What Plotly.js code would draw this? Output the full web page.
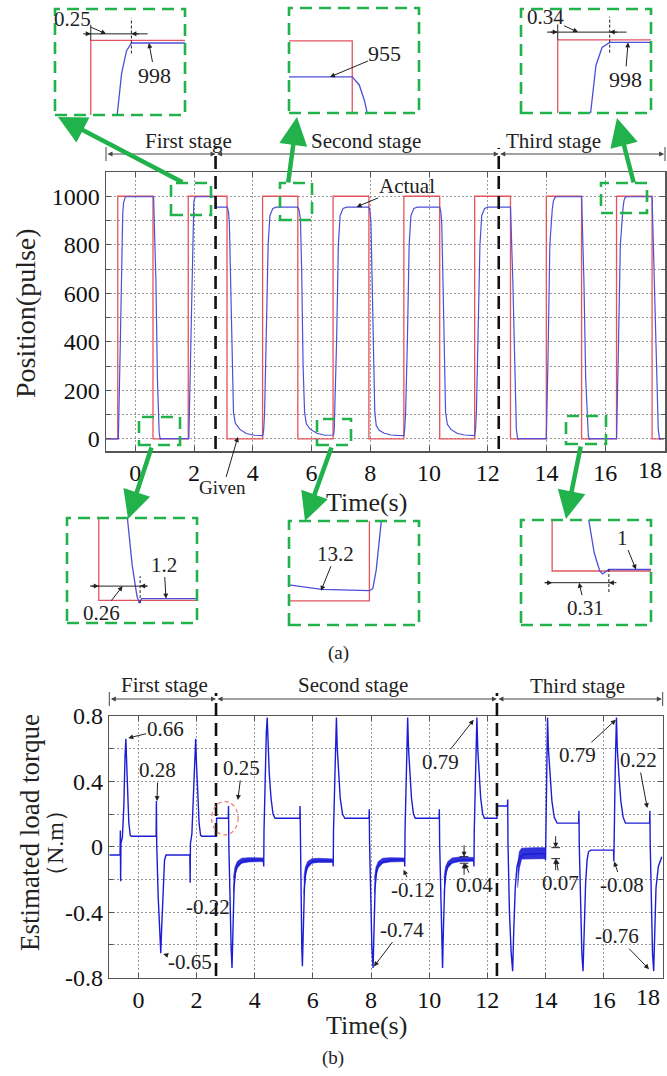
<!DOCTYPE html>
<html>
<head>
<meta charset="utf-8">
<script src="https://cdn.plot.ly/plotly-3.0.1.min.js"></script>
<style>
html,body{margin:0;padding:0;background:#fff}
#fig{width:667px;height:1076px}
</style>
</head>
<body>
<div id="fig"></div>
<script>
// ---- (a) position tracking: commanded square wave and measured response (pulse) ----
const givenT   = [-1, -0.6, 0.6, 1.8, 3.12, 4.33, 5.53, 6.73, 7.95, 9.14, 10.36, 11.55, 12.77, 13.99, 15.19, 16.38, 17.59, 18];
const givenPos = [0, 1000, 0, 1000, 0, 1000, 0, 1000, 0, 1000, 0, 1000, 0, 1000, 0, 1000, 0, 0];

const actualT = [
  -1, -0.58, -0.52, -0.46, -0.43, -0.40, -0.37, -0.34,
  0.62, 0.70, 0.75, 0.78, 0.81, 0.84, 0.855, 0.87,
  1.82, 1.88, 1.94, 1.96, 1.99, 2.02, 2.05, 2.73, 2.75,
  3.13, 3.17, 3.20, 3.25, 3.30, 3.34, 3.40, 3.55, 3.77, 4.05, 4.34,
  4.37, 4.40, 4.46, 4.52, 4.58, 4.68, 4.80,
  5.53, 5.57, 5.60, 5.62, 5.66, 5.71, 5.76, 5.82, 5.95, 6.18, 6.45, 6.73,
  6.75, 6.77, 6.79, 6.85, 6.91, 6.97, 7.07, 7.20,
  7.95, 7.99, 8.02, 8.07, 8.11, 8.15, 8.20, 8.30, 8.47, 8.70, 8.90, 9.14,
  9.17, 9.20, 9.26, 9.32, 9.38, 9.48, 9.60,
  10.36, 10.40, 10.43, 10.48, 10.52, 10.56, 10.62, 10.75, 10.95, 11.20, 11.55,
  11.58, 11.61, 11.67, 11.73, 11.79, 11.89, 12.00,
  12.77, 12.85, 12.92, 12.97, 13.01, 13.03, 13.06,
  13.99, 14.05, 14.11, 14.19, 14.23, 14.28, 14.32,
  15.19, 15.27, 15.33, 15.39, 15.42, 15.45, 15.465, 15.50,
  16.38, 16.44, 16.51, 16.595, 16.63, 16.67, 16.72,
  17.59, 17.67, 17.74, 17.80, 17.84, 17.86, 17.90, 18
];
const actualPos = [
  0, 0, 350, 800, 930, 975, 992, 998,
  998, 650, 250, 58, 25, 3, -2, 1.2,
  1.2, 350, 800, 940, 975, 992, 998, 998, 955,
  955, 935, 890, 600, 250, 110, 65, 40, 22, 15, 13.2,
  40, 110, 400, 800, 920, 950, 955,
  955, 945, 925, 905, 700, 300, 110, 62, 40, 23, 15, 13.2,
  16, 40, 110, 400, 800, 920, 950, 955,
  955, 935, 890, 600, 250, 110, 55, 35, 23, 16, 14, 13.2,
  40, 110, 400, 800, 920, 950, 955,
  955, 935, 890, 600, 250, 110, 60, 38, 23, 16, 13.2,
  40, 110, 400, 800, 920, 950, 955,
  955, 650, 250, 40, 3, -2, 1,
  1, 350, 800, 943, 980, 994, 998,
  998, 650, 250, 34, 12, 0, -2, 1,
  1, 350, 800, 943, 980, 994, 998,
  998, 650, 250, 40, 3, -2, 1, 1
];

// ---- (b) estimated load torque (N.m) ----
const torqueT = [
  -1, -0.63, -0.62, -0.61, -0.60, -0.55, -0.50, -0.46, -0.43, -0.40, -0.37, -0.33, -0.28, -0.24,
  0.61, 0.62, 0.63, 0.68, 0.73, 0.77, 0.80, 0.85, 0.90, 0.95,
  1.77, 1.78, 1.79, 1.84, 1.89, 1.93, 1.97, 2.00, 2.04, 2.09, 2.14, 2.18,
  2.68, 2.69, 3.09, 3.10, 3.11, 3.15, 3.19, 3.22, 3.25, 3.29, 3.34, 3.42, 3.58, 3.85,
  4.30, 4.31, 4.32, 4.36, 4.40, 4.43, 4.46, 4.50, 4.56, 4.63, 4.70,
  5.55, 5.56, 5.57, 5.60, 5.62, 5.64, 5.67, 5.71, 5.76, 5.84, 6.00, 6.25,
  6.69, 6.70, 6.71, 6.75, 6.78, 6.81, 6.84, 6.88, 6.94, 7.02, 7.10,
  7.93, 7.94, 7.95, 7.99, 8.03, 8.07, 8.10, 8.14, 8.19, 8.27, 8.43, 8.70,
  9.15, 9.16, 9.17, 9.21, 9.24, 9.26, 9.29, 9.33, 9.39, 9.46, 9.52,
  10.34, 10.35, 10.36, 10.40, 10.43, 10.46, 10.49, 10.53, 10.58, 10.66, 10.82, 11.10,
  11.53, 11.54, 11.55, 11.59, 11.62, 11.64, 11.67, 11.71, 11.77, 11.84, 11.90,
  12.33, 12.34, 12.69, 12.70, 12.71, 12.76, 12.82, 12.87, 12.91, 12.96, 13.02, 13.10, 13.25,
  13.99, 14.00, 14.01, 14.04, 14.07, 14.10, 14.15, 14.22, 14.30, 14.40,
  15.14, 15.15, 15.16, 15.21, 15.25, 15.29, 15.33, 15.38, 15.43, 15.48, 15.55,
  16.34, 16.35, 16.36, 16.40, 16.44, 16.47, 16.52, 16.59, 16.67, 16.75,
  17.58, 17.59, 17.60, 17.64, 17.68, 17.72, 17.76, 17.80, 17.88, 17.96, 18
];
const torqueV = [
  -0.05, -0.05, 0.10, -0.21, 0.02, 0.06, 0.25, 0.55, 0.66, 0.50, 0.30, 0.15, 0.07, 0.065,
  0.065, 0.28, 0.02, -0.30, -0.55, -0.65, -0.50, -0.25, -0.08, -0.05,
  -0.05, -0.22, 0.02, 0.08, 0.30, 0.55, 0.66, 0.50, 0.30, 0.14, 0.07, 0.065,
  0.065, 0.175, 0.175, 0.25, 0.02, -0.35, -0.62, -0.74, -0.50, -0.25, -0.15, -0.11, -0.09, -0.08,
  -0.08, -0.12, 0.10, 0.45, 0.70, 0.79, 0.60, 0.45, 0.30, 0.20, 0.175,
  0.175, 0.25, 0.02, -0.35, -0.62, -0.73, -0.50, -0.25, -0.15, -0.11, -0.09, -0.085,
  -0.085, -0.12, 0.10, 0.45, 0.70, 0.79, 0.60, 0.45, 0.30, 0.20, 0.175,
  0.175, 0.23, 0.02, -0.35, -0.62, -0.74, -0.50, -0.25, -0.15, -0.11, -0.09, -0.08,
  -0.08, -0.12, 0.10, 0.45, 0.70, 0.79, 0.60, 0.45, 0.30, 0.20, 0.175,
  0.175, 0.23, 0.02, -0.35, -0.62, -0.74, -0.50, -0.25, -0.15, -0.11, -0.09, -0.08,
  -0.08, -0.12, 0.10, 0.45, 0.70, 0.79, 0.60, 0.45, 0.30, 0.20, 0.175,
  0.175, 0.25, 0.25, 0.29, 0.02, -0.40, -0.65, -0.76, -0.50, -0.25, -0.12, -0.07, -0.045,
  -0.04, -0.08, 0.10, 0.50, 0.79, 0.60, 0.45, 0.28, 0.18, 0.145,
  0.145, 0.22, 0.02, -0.40, -0.65, -0.76, -0.50, -0.22, -0.08, -0.03, -0.02,
  -0.02, -0.09, 0.10, 0.50, 0.79, 0.60, 0.45, 0.28, 0.18, 0.145,
  0.145, 0.22, 0.02, -0.40, -0.65, -0.76, -0.55, -0.25, -0.12, -0.07, -0.06
];

// ripple envelope of the estimate on the noisy low plateaus
const noiseT = [
  [3.27, 3.32, 3.40, 3.55, 3.80, 4.05, 4.29],
  [5.69, 5.74, 5.82, 5.97, 6.20, 6.45, 6.68],
  [8.12, 8.17, 8.25, 8.40, 8.65, 8.90, 9.14],
  [10.51, 10.56, 10.64, 10.79, 11.05, 11.30, 11.52],
  [13.04, 13.10, 13.18, 13.40, 13.65, 13.85, 13.98]
];
const noiseHi = [
  [-0.19, -0.125, -0.09, -0.07, -0.066, -0.066, -0.068],
  [-0.19, -0.125, -0.09, -0.072, -0.07, -0.072, -0.074],
  [-0.19, -0.125, -0.09, -0.07, -0.066, -0.066, -0.068],
  [-0.19, -0.125, -0.09, -0.068, -0.062, -0.062, -0.065],
  [-0.12, -0.03, -0.008, -0.005, -0.005, -0.005, -0.005]
];
const noiseLo = [
  [-0.29, -0.18, -0.13, -0.1, -0.092, -0.09, -0.09],
  [-0.29, -0.18, -0.13, -0.1, -0.095, -0.095, -0.095],
  [-0.29, -0.18, -0.13, -0.1, -0.092, -0.09, -0.09],
  [-0.29, -0.18, -0.13, -0.1, -0.09, -0.088, -0.088],
  [-0.25, -0.13, -0.075, -0.072, -0.072, -0.072, -0.072]
];

const timeTicks = [0, 2, 4, 6, 8, 10, 12, 14, 16, 18];
// the label at 18 s is set right-aligned at the axis end (see below)
const timeTickText = ['0', '2', '4', '6', '8', '10', '12', '14', '16', ''];
const lastTimeLabel = '18';
const posTicks = [0, 200, 400, 600, 800, 1000];
const torqueTicks = [-0.8, -0.4, 0, 0.4, 0.8];
const torqueTickText = ['-0.8', '-0.4', '0', '0.4', '0.8'];

// stage boundaries (s) as marked on each panel
const stageA = [2.73, 12.37];
const stageB = [2.67, 12.33];

// ---------------- drawing ----------------
const W = 667, H = 1076;
const fx = x => x / W;
const fy = y => 1 - y / H;

const SERIF = 'Liberation Serif, Times New Roman, serif';
const RED = '#e2555c';
const BLUE = '#4e4ed8';
const TBLUE = '#1c1cd6';
const GREEN = '#22b24c';
const INK = '#222';
const GRID = '#9a9a9a';

function axisBase(extra) {
  return Object.assign({
    showline: true, linecolor: '#555', linewidth: 1.5, mirror: 'ticks',
    ticks: 'inside', ticklen: 5, tickcolor: '#555', tickwidth: 1,
    showgrid: true, gridcolor: GRID, gridwidth: 1, griddash: '2px,2px',
    zeroline: false, fixedrange: true,
    tickfont: {family: SERIF, size: 24, color: '#111'}
  }, extra);
}

// zoom windows drawn beside the main position plot
const insets = [
  {id: 3, box: [55, 9, 185, 115],   xr: [1.58, 2.38],   yr: [943, 1024]},
  {id: 4, box: [289, 8, 419, 113],  xr: [5.17, 5.91],   yr: [910, 1041]},
  {id: 5, box: [521, 9, 651, 113],  xr: [16.14, 16.99], yr: [943, 1024]},
  {id: 6, box: [67, 518, 197, 623], xr: [0.4, 1.218],   yr: [-16, 58]},
  {id: 7, box: [289, 521, 419, 625],xr: [6.26, 7.02],   yr: [-31, 103]},
  {id: 8, box: [521, 520, 651, 625],xr: [15.02, 15.73], yr: [-36, 34]}
];

const traces = [
  {x: givenT, y: givenPos, xaxis: 'x', yaxis: 'y', mode: 'lines',
   line: {shape: 'hv', color: RED, width: 1.3}, hoverinfo: 'skip'},
  {x: actualT, y: actualPos, xaxis: 'x', yaxis: 'y', mode: 'lines',
   line: {color: BLUE, width: 1.2}, hoverinfo: 'skip'}
];

// ripple bands as closed polygons
const bandX = [], bandY = [];
noiseT.forEach((seg, i) => {
  seg.forEach((t, k) => { bandX.push(t); bandY.push(noiseHi[i][k]); });
  for (let k = seg.length - 1; k >= 0; k--) { bandX.push(seg[k]); bandY.push(noiseLo[i][k]); }
  bandX.push(null); bandY.push(null);
});
traces.push({x: bandX, y: bandY, xaxis: 'x2', yaxis: 'y2', mode: 'lines', fill: 'toself',
  fillcolor: 'rgba(28,28,214,0.9)', line: {color: TBLUE, width: 0.6}, hoverinfo: 'skip'});
traces.push({x: torqueT, y: torqueV, xaxis: 'x2', yaxis: 'y2', mode: 'lines',
  line: {color: TBLUE, width: 1.4}, hoverinfo: 'skip'});

insets.forEach(s => {
  traces.push({x: givenT, y: givenPos, xaxis: 'x' + s.id, yaxis: 'y' + s.id, mode: 'lines',
    line: {shape: 'hv', color: RED, width: 1.3}, hoverinfo: 'skip'});
  traces.push({x: actualT, y: actualPos, xaxis: 'x' + s.id, yaxis: 'y' + s.id, mode: 'lines',
    line: {color: BLUE, width: 1.3}, hoverinfo: 'skip'});
});

const layout = {
  width: W, height: H, autosize: false,
  margin: {l: 0, r: 0, t: 0, b: 0},
  paper_bgcolor: '#fff', plot_bgcolor: 'rgba(0,0,0,0)',
  showlegend: false,
  font: {family: SERIF, color: INK},
  xaxis: axisBase({domain: [fx(106), fx(665)], range: [-1, 18.03], anchor: 'y',
    tickvals: timeTicks, ticktext: timeTickText}),
  yaxis: axisBase({domain: [fy(451), fy(172)], range: [-50, 1100], anchor: 'x', tickvals: posTicks,
    minor: {tickvals: [100, 300, 500, 700, 900], ticks: 'inside', ticklen: 4, tickcolor: '#555',
            showgrid: true, gridcolor: GRID, griddash: '2px,2px', gridwidth: 1}}),
  xaxis2: axisBase({domain: [fx(109.3), fx(662.7)], range: [-1, 18.03], anchor: 'y2',
    tickvals: timeTicks, ticktext: timeTickText}),
  yaxis2: axisBase({domain: [fy(977.7), fy(716)], range: [-0.8, 0.8], anchor: 'x2',
    tickvals: torqueTicks, ticktext: torqueTickText,
    minor: {tickvals: [-0.6, -0.2, 0.2, 0.6], ticks: 'inside', ticklen: 4, tickcolor: '#555',
            showgrid: true, gridcolor: GRID, griddash: '2px,2px', gridwidth: 1}}),
  shapes: [],
  annotations: []
};

insets.forEach(s => {
  const [x0, y0, x1, y1] = s.box;
  layout['xaxis' + s.id] = {domain: [fx(x0), fx(x1)], range: s.xr, visible: false,
    anchor: 'y' + s.id, fixedrange: true};
  layout['yaxis' + s.id] = {domain: [fy(y1), fy(y0)], range: s.yr, visible: false,
    anchor: 'x' + s.id, fixedrange: true};
});

const S = layout.shapes, A = layout.annotations;

function pBox(x0, y0, x1, y1) {
  S.push({type: 'rect', xref: 'paper', yref: 'paper', x0: fx(x0), x1: fx(x1), y0: fy(y1), y1: fy(y0),
    line: {color: GREEN, width: 2.6, dash: '12px,7px'}, fillcolor: 'rgba(0,0,0,0)'});
}
function seg(xref, yref, x0, y0, x1, y1, opts) {
  S.push(Object.assign({type: 'line', xref, yref, x0, y0, x1, y1,
    line: {color: INK, width: 1}}, opts || {}));
}
function text(t, x, y, size, extra) {
  A.push(Object.assign({text: t, xref: 'paper', yref: 'paper', x: fx(x), y: fy(y),
    xanchor: 'center', yanchor: 'middle', showarrow: false,
    font: {family: SERIF, size: size, color: INK}}, extra || {}));
}
function pointer(t, xref, yref, x, y, ax, ay, size) {
  A.push({text: t, xref, yref, x, y, ax, ay, axref: 'pixel', ayref: 'pixel',
    showarrow: true, arrowhead: 2, arrowsize: 1, arrowwidth: 1, arrowcolor: INK,
    font: {family: SERIF, size: size || 20, color: INK}, borderpad: 0});
}
function head(xref, yref, x, y, ax, ay) {
  A.push({text: '', xref, yref, x, y, ax, ay, axref: 'pixel', ayref: 'pixel',
    showarrow: true, arrowhead: 2, arrowsize: 1, arrowwidth: 1, arrowcolor: INK});
}
function greenArrow(x1, y1, x2, y2) {
  A.push({text: '', xref: 'paper', yref: 'paper', x: fx(x2), y: fy(y2),
    ax: x1 - x2, ay: y1 - y2, axref: 'pixel', ayref: 'pixel',
    showarrow: true, arrowhead: 2, arrowsize: 1.25, arrowwidth: 4.5, arrowcolor: GREEN});
}
function stageSpan(xref, y, t0, t1) {
  A.push({text: '', xref, yref: 'paper', x: t1, y: fy(y), ax: t0, axref: xref, ay: 0, ayref: 'pixel',
    showarrow: true, arrowside: 'end+start', arrowhead: 2, startarrowhead: 2,
    arrowsize: 1, startarrowsize: 1, arrowwidth: 1, arrowcolor: '#444'});
}

// end-of-axis time label, kept inside the figure
A.push({text: lastTimeLabel, xref: 'x', yref: 'paper', x: 18, y: fy(470), xanchor: 'right', yanchor: 'middle',
  showarrow: false, font: {family: SERIF, size: 24, color: '#111'}});
A.push({text: lastTimeLabel, xref: 'x2', yref: 'paper', x: 18, y: fy(997), xanchor: 'right', yanchor: 'middle',
  showarrow: false, font: {family: SERIF, size: 24, color: '#111'}});

// --- stage bars and boundaries ---
[[-1].concat(stageA).concat([18])].forEach(b => {
  for (let i = 0; i < b.length - 1; i++) stageSpan('x', 154, b[i], b[i + 1]);
});
[[-1].concat(stageB).concat([18])].forEach(b => {
  for (let i = 0; i < b.length - 1; i++) stageSpan('x2', 699, b[i], b[i + 1]);
});
seg('paper', 'paper', fx(106), fy(147), fx(106), fy(161), {line: {color: '#444', width: 1}});
seg('paper', 'paper', fx(665), fy(147), fx(665), fy(161), {line: {color: '#444', width: 1}});
seg('paper', 'paper', fx(109.3), fy(692), fx(109.3), fy(706), {line: {color: '#444', width: 1}});
seg('paper', 'paper', fx(662.7), fy(692), fx(662.7), fy(706), {line: {color: '#444', width: 1}});
stageA.forEach(t => seg('x', 'paper', t, fy(449), t, fy(148), {line: {color: '#111', width: 2.6, dash: '13px,7px'}}));
stageB.forEach(t => seg('x2', 'paper', t, fy(976), t, fy(693), {line: {color: '#111', width: 2.6, dash: '13px,7px'}}));

text('First stage', 188, 141, 21);
text('Second stage', 366, 141, 21);
text('Third stage', 553, 141, 21);
text('First stage', 164, 685, 21);
text('Second stage', 353, 685, 21);
text('Third stage', 577, 686, 21);

// --- axis titles and panel tags ---
text('Position(pulse)', 25, 313, 28, {textangle: -90});
text('Time(s)', 366, 502, 26);
text('Estimated load torque', 30, 833, 27, {textangle: -90});
text('（N.m）', 55, 843, 24, {textangle: -90});
text('Time(s)', 366, 1025, 26);
text('(a)', 338, 653, 19);
text('(b)', 333, 1058, 19);

// --- zoom frames and leaders ---
insets.forEach(s => pBox.apply(null, s.box));
pBox(171, 183, 211, 215);
pBox(280, 183, 312, 220);
pBox(601, 183, 647, 213);
pBox(139, 417, 180, 445);
pBox(317, 419, 351, 445);
pBox(566, 416, 606, 444);
greenArrow(184, 183, 58, 117);
greenArrow(288, 184, 297, 117);
greenArrow(634, 184, 617, 118);
greenArrow(152, 446, 128, 519);
greenArrow(332, 446, 305, 521);
greenArrow(581, 445, 566, 519);

// --- main position plot labels ---
pointer('Actual', 'x', 'y', 7.53, 956, 50, -21, 21);
pointer('Given', 'x', 'y', 3.49, 8, -15, 51, 19);

// --- inset dimensioning ---
// settling to 998 after the 1.8 s step (first stage)
seg('x3', 'y3', 1.77, 1005, 2.15, 1005);
seg('x3', 'y3', 2.05, 990, 2.05, 1017, {line: {color: INK, width: 1, dash: '3px,2px'}});
seg('x3', 'y3', 1.8, 1000, 1.8, 1012);
head('x3', 'y3', 1.8, 1005, -9, 0);
head('x3', 'y3', 2.05, 1005, 9, 0);
pointer('0.25', 'x3', 'y3', 1.894, 1005, -34, -15, 21);
pointer('998', 'x3', 'y3', 2.158, 998, 6, 32, 22);
// second stage plateau
pointer('955', 'x4', 'y4', 5.403, 955, 55, -23, 22);
// third stage settling
seg('x5', 'y5', 16.31, 1006, 16.83, 1006);
seg('x5', 'y5', 16.72, 990, 16.72, 1018, {line: {color: INK, width: 1, dash: '3px,2px'}});
seg('x5', 'y5', 16.38, 1000, 16.38, 1012);
head('x5', 'y5', 16.38, 1006, -9, 0);
head('x5', 'y5', 16.72, 1006, 9, 0);
pointer('0.34', 'x5', 'y5', 16.513, 1006, -33, -15, 21);
pointer('998', 'x5', 'y5', 16.84, 998, -3, 37, 22);
// return to zero, first stage
seg('x6', 'y6', 0.545, 10, 0.905, 10);
seg('x6', 'y6', 0.86, -2, 0.86, 17, {line: {color: INK, width: 1, dash: '3px,2px'}});
head('x6', 'y6', 0.6, 10, -9, 0);
head('x6', 'y6', 0.86, 10, 9, 0);
pointer('0.26', 'x6', 'y6', 0.75, 10, -21, 27, 21);
pointer('1.2', 'x6', 'y6', 1.023, 1.2, -2, -34, 21);
// residual offset, second stage
pointer('13.2', 'x7', 'y7', 6.447, 13.2, 15, -37, 21);
// return to zero, third stage
seg('x8', 'y8', 15.15, -7.8, 15.51, -7.8);
seg('x8', 'y8', 15.5, -14, 15.5, 2, {line: {color: INK, width: 1, dash: '3px,2px'}});
head('x8', 'y8', 15.19, -7.8, -9, 0);
head('x8', 'y8', 15.5, -7.8, 9, 0);
pointer('0.31', 'x8', 'y8', 15.337, -7.8, 6, 25, 21);
pointer('1', 'x8', 'y8', 15.648, 1, -13, -32, 21);

// --- torque plot labels ---
S.push({type: 'circle', xref: 'x2', yref: 'y2', x0: 2.52, x1: 3.43, y0: 0.073, y1: 0.277,
  line: {color: '#e87878', width: 1.2, dash: '4px,3px'}});
pointer('0.66', 'x2', 'y2', -0.35, 0.665, 37, -9, 21);
pointer('0.28', 'x2', 'y2', 0.64, 0.28, 1, -31, 21);
pointer('0.25', 'x2', 'y2', 3.42, 0.287, 4, -32, 21);
pointer('-0.22', 'x2', 'y2', 1.94, -0.228, 13, 23, 21);
pointer('-0.65', 'x2', 'y2', 0.855, -0.655, 27, 8, 21);
pointer('-0.12', 'x2', 'y2', 9.12, -0.14, 9, 20, 21);
pointer('-0.74', 'x2', 'y2', 8.1, -0.732, 28, -37, 21);
pointer('0.79', 'x2', 'y2', 11.53, 0.777, -33, 42, 21);
pointer('0.79', 'x2', 'y2', 16.42, 0.777, -38, 35, 21);
pointer('0.22', 'x2', 'y2', 17.5, 0.237, -9, -48, 21);
pointer('-0.08', 'x2', 'y2', 16.36, -0.09, 8, 23, 21);
pointer('-0.76', 'x2', 'y2', 17.56, -0.748, -32, -33, 21);
// ripple amplitude markers
seg('x2', 'y2', 11.05, -0.06, 11.35, -0.06);
seg('x2', 'y2', 11.05, -0.10, 11.35, -0.10);
head('x2', 'y2', 11.2, -0.06, 0, -13);
head('x2', 'y2', 11.2, -0.10, 0, 13);
pointer('0.04', 'x2', 'y2', 11.22, -0.1, 10, 22, 21);
seg('x2', 'y2', 14.2, -0.005, 14.5, -0.005);
seg('x2', 'y2', 14.2, -0.072, 14.5, -0.072);
head('x2', 'y2', 14.35, -0.005, 0, -13);
head('x2', 'y2', 14.35, -0.072, 0, 13);
pointer('0.07', 'x2', 'y2', 14.37, -0.075, 4, 24, 21);

Plotly.newPlot('fig', traces, layout, {staticPlot: true, displayModeBar: false});
</script>
</body>
</html>
